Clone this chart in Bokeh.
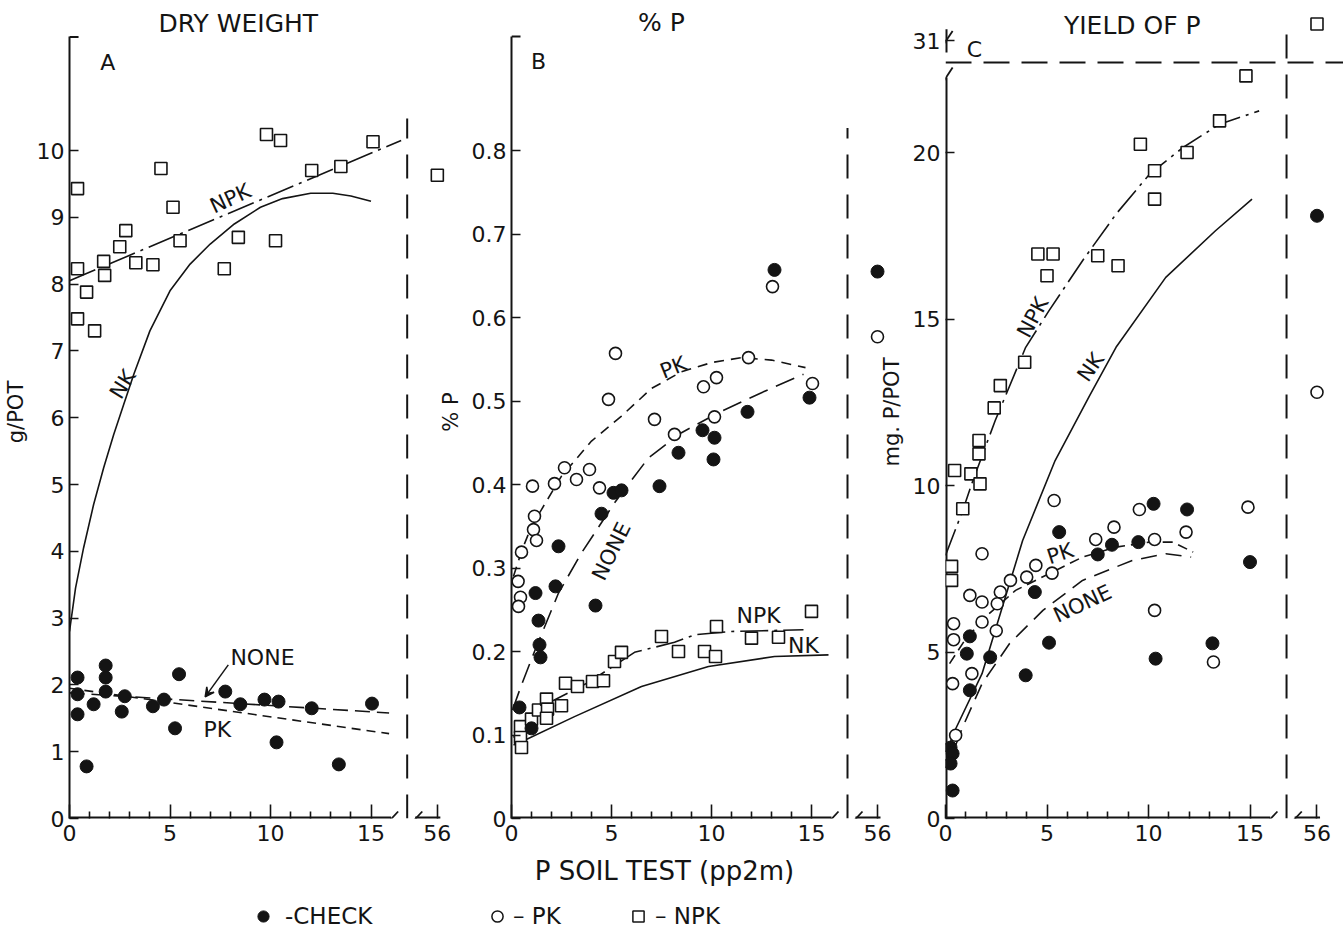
import math
from bokeh.plotting import figure
from bokeh.models import (Range1d, FixedTicker, Label, Arrow, VeeHead, Legend, LegendItem,
                          CustomJSTickFormatter)
from bokeh.layouts import row, column
from bokeh.embed import file_html
from bokeh.resources import INLINE

FONT = "DejaVu Sans"
INK = "#141414"

# ---------------- data ----------------
x_ticks = [0, 5, 10, 15]
x_far_value = 56          # soil test value shown beyond the axis break

# Panel A : dry weight (g/POT)
a_check_x = [0.4, 0.4, 0.4, 0.85, 1.2, 1.8, 1.8, 1.8, 2.6, 2.75, 4.15, 4.7, 5.25, 5.45, 7.75, 8.5, 9.7, 10.4, 10.3, 12.05, 13.4, 15.05]
a_check_y = [2.11, 1.86, 1.56, 0.78, 1.71, 2.29, 2.11, 1.9, 1.6, 1.83, 1.68, 1.78, 1.35, 2.16, 1.9, 1.71, 1.78, 1.75, 1.14, 1.65, 0.81, 1.72]
a_npk_x = [0.4, 0.4, 0.85, 0.4, 1.25, 1.7, 1.75, 2.5, 2.8, 3.3, 4.15, 4.55, 5.15, 5.5, 7.7, 8.4, 9.8, 10.5, 10.25, 12.05, 13.5, 15.1, 56]
a_npk_y = [9.43, 8.23, 7.88, 7.48, 7.3, 8.34, 8.13, 8.56, 8.8, 8.32, 8.29, 9.73, 9.15, 8.65, 8.23, 8.7, 10.24, 10.15, 8.65, 9.7, 9.76, 10.13, 9.63]
a_curve_npk_x = [0.0, 16.5]
a_curve_npk_y = [8.05, 10.15]
a_curve_nk_x = [0.0, 0.3, 0.7, 1.2, 1.7, 2.2, 2.7, 3.2, 4.0, 5.0, 6.0, 7.0, 8.2, 9.5, 10.6, 12.0, 13.1, 14.0, 15.0]
a_curve_nk_y = [2.8, 3.45, 4.05, 4.7, 5.25, 5.75, 6.2, 6.65, 7.3, 7.9, 8.3, 8.6, 8.9, 9.15, 9.28, 9.36, 9.36, 9.32, 9.24]
a_curve_none_x = [0.0, 15.9]
a_curve_none_y = [1.88, 1.58]
a_curve_pk_x = [0.0, 15.9]
a_curve_pk_y = [1.95, 1.27]
a_y_ticks = [0, 1, 2, 3, 4, 5, 6, 7, 8, 9, 10]

# Panel B : % P
b_check_x = [13.15, 14.9, 11.8, 8.35, 9.55, 10.15, 10.1, 7.4, 5.1, 5.5, 4.5, 2.35, 2.2, 4.2, 1.2, 1.35, 1.4, 1.45, 0.4, 1.0, 56]
b_check_y = [0.657, 0.504, 0.487, 0.438, 0.465, 0.456, 0.43, 0.398, 0.39, 0.393, 0.365, 0.326, 0.278, 0.255, 0.27, 0.237, 0.208, 0.193, 0.133, 0.108, 0.655]
b_pk_x = [13.05, 5.2, 4.85, 11.85, 9.6, 10.25, 15.05, 7.15, 10.15, 8.15, 4.4, 3.9, 3.25, 2.65, 2.15, 1.05, 1.15, 1.1, 1.25, 0.5, 0.33, 0.45, 0.35, 56]
b_pk_y = [0.637, 0.557, 0.502, 0.552, 0.517, 0.528, 0.521, 0.478, 0.481, 0.46, 0.396, 0.418, 0.406, 0.42, 0.401, 0.398, 0.362, 0.346, 0.333, 0.319, 0.284, 0.265, 0.254, 0.577]
b_npk_x = [0.45, 0.45, 0.5, 1.0, 1.35, 1.75, 1.8, 1.75, 2.5, 2.7, 3.3, 4.05, 4.6, 5.15, 5.5, 7.5, 8.35, 9.65, 10.2, 10.25, 12.0, 13.35, 15.0]
b_npk_y = [0.11, 0.097, 0.085, 0.119, 0.13, 0.143, 0.131, 0.12, 0.135, 0.162, 0.158, 0.164, 0.165, 0.188, 0.199, 0.218, 0.2, 0.2, 0.194, 0.23, 0.216, 0.217, 0.248]
b_curve_pk_x = [0.1, 0.5, 1.0, 1.5, 2.5, 4.0, 5.5, 7.0, 8.5, 10.0, 11.5, 13.0, 14.7]
b_curve_pk_y = [0.29, 0.32, 0.35, 0.37, 0.41, 0.452, 0.482, 0.515, 0.535, 0.546, 0.552, 0.549, 0.54]
b_curve_none_x = [0.05, 0.5, 1.15, 2.35, 3.5, 5.15, 6.85, 8.5, 10.35, 12.5, 14.6]
b_curve_none_y = [0.13, 0.16, 0.2, 0.27, 0.318, 0.378, 0.432, 0.462, 0.486, 0.51, 0.532]
b_curve_npk_x = [0.1, 1.5, 3.85, 6.15, 8.15, 9.15, 11.0, 14.6]
b_curve_npk_y = [0.097, 0.134, 0.163, 0.199, 0.211, 0.22, 0.224, 0.226]
b_curve_nk_x = [0.1, 0.5, 3.15, 6.5, 9.85, 13.15, 15.85]
b_curve_nk_y = [0.088, 0.092, 0.122, 0.158, 0.182, 0.194, 0.196]
b_y_ticks = [0, 0.1, 0.2, 0.3, 0.4, 0.5, 0.6, 0.7, 0.8]

# Panel C : yield of P (mg P/POT)
c_check_x = [10.25, 11.9, 5.6, 8.2, 9.5, 7.5, 15.0, 4.4, 1.2, 1.05, 2.2, 5.1, 13.15, 10.35, 3.95, 1.2, 0.25, 0.35, 0.25, 0.35, 56]
c_check_y = [9.45, 9.28, 8.6, 8.22, 8.3, 7.93, 7.7, 6.8, 5.47, 4.95, 4.84, 5.28, 5.26, 4.8, 4.3, 3.85, 2.13, 1.95, 1.65, 0.84, 18.1]
c_pk_x = [5.35, 9.55, 14.9, 11.85, 8.3, 7.4, 10.3, 1.8, 5.25, 4.45, 4.0, 3.2, 2.7, 1.2, 1.8, 2.55, 1.8, 0.4, 0.4, 2.5, 10.3, 13.2, 1.3, 0.35, 0.5, 56]
c_pk_y = [9.55, 9.28, 9.35, 8.6, 8.75, 8.38, 8.38, 7.95, 7.37, 7.6, 7.25, 7.15, 6.8, 6.7, 6.5, 6.45, 5.9, 5.85, 5.37, 5.64, 6.25, 4.7, 4.35, 4.05, 2.5, 12.8]
c_npk_x = [14.8, 13.5, 9.6, 11.9, 10.3, 10.3, 7.5, 8.5, 4.55, 5.3, 5.0, 3.9, 2.7, 2.4, 1.65, 1.65, 0.45, 1.25, 1.7, 0.85, 0.3, 0.3, 56]
c_npk_y = [22.3, 20.95, 20.25, 20.0, 19.45, 18.6, 16.9, 16.6, 16.95, 16.95, 16.3, 13.7, 13.0, 12.33, 11.35, 10.95, 10.45, 10.35, 10.05, 9.3, 7.57, 7.15, 32]
c_curve_npk_x = [0.0, 0.85, 1.35, 2.45, 3.95, 5.1, 6.75, 8.4, 10.05, 11.7, 13.5, 15.45]
c_curve_npk_y = [7.9, 9.25, 10.15, 11.95, 14.15, 15.25, 16.75, 18.15, 19.35, 20.15, 20.85, 21.25]
c_curve_nk_x = [0.1, 0.35, 1.8, 2.8, 3.8, 5.4, 7.1, 8.4, 10.85, 13.3, 15.1]
c_curve_nk_y = [2.0, 2.5, 4.35, 6.35, 8.35, 10.75, 12.7, 14.15, 16.25, 17.65, 18.6]
c_curve_pk_x = [0.2, 1.0, 2.15, 3.45, 5.1, 6.75, 8.4, 10.05, 11.2, 12.2]
c_curve_pk_y = [4.65, 5.4, 6.15, 6.85, 7.35, 7.85, 8.15, 8.3, 8.3, 8.0]
c_curve_none_x = [0.5, 0.85, 1.8, 3.15, 4.8, 6.75, 9.2, 10.85, 12.1]
c_curve_none_y = [2.2, 2.75, 4.05, 5.25, 6.25, 7.15, 7.75, 7.95, 7.85]
c_y_ticks = [0, 5, 10, 15, 20]
c_y_break_value = 31

# ---------------- layout constants ----------------
BREAK_POS = 18.3       # plotted position of x = 56
BREAK_LINE_X = 16.8    # vertical dashed break line
C_Y31_POS = 23.36      # plotted position of y = 31 in panel C
C_HLINE = 22.7         # horizontal dashed break line in panel C
H_TOP = 850


def bx(xs):
    return [BREAK_POS if v >= 50 else v for v in xs]


def cy(ys):
    return [C_Y31_POS + (v - c_y_break_value) * 0.5 if v > 30 else v for v in ys]


def panel(width, left, right, xmax, ymax, shift):
    p = figure(width=width, height=H_TOP, x_range=Range1d(0, xmax), y_range=Range1d(0, ymax),
               output_backend="svg", toolbar_location=None,
               min_border_left=left, min_border_right=right, min_border_top=5, min_border_bottom=32,
               background_fill_alpha=0, border_fill_alpha=0, outline_line_color=None)
    if shift:
        p.margin = (0, 0, 0, shift)
    p.xgrid.visible = False
    p.ygrid.visible = False
    xa = p.xaxis[0]
    xa.ticker = FixedTicker(ticks=x_ticks + [BREAK_POS],
                            minor_ticks=[1, 2, 3, 4, 6, 7, 8, 9, 11, 12, 13, 14])
    xa.formatter = CustomJSTickFormatter(code="return tick > 17 ? '56' : tick.toFixed(0);")
    xa.axis_line_color = None
    xa.major_tick_in = 14
    xa.major_tick_out = 0
    xa.minor_tick_in = 7
    xa.minor_tick_out = 0
    xa.major_tick_line_width = 1.6
    xa.minor_tick_line_width = 1.6
    xa.major_tick_line_color = INK
    xa.minor_tick_line_color = INK
    xa.major_label_text_font = FONT
    xa.major_label_text_font_size = "22px"
    xa.major_label_text_color = INK
    xa.major_label_standoff = 6
    ya = p.yaxis[0]
    ya.major_tick_in = 9
    ya.major_tick_out = 0
    ya.minor_tick_line_color = None
    ya.major_tick_line_width = 1.6
    ya.major_tick_line_color = INK
    ya.axis_line_width = 2
    ya.axis_line_color = INK
    ya.major_label_text_font = FONT
    ya.major_label_text_font_size = "22px"
    ya.major_label_text_color = INK
    ya.major_label_standoff = 5
    ya.axis_label_text_font = FONT
    ya.axis_label_text_font_size = "21px"
    ya.axis_label_text_font_style = "normal"
    ya.axis_label_text_color = INK
    ya.axis_label_standoff = 6
    return p


def x_axis_line(p, px_per_y):
    h = 7.0 / px_per_y
    p.segment(x0=[0, 17.2], y0=[0, 0], x1=[16.0, BREAK_POS + 0.15], y1=[0, 0], line_width=4, line_color=INK)
    p.segment(x0=[15.7, 16.9], y0=[-h, -h], x1=[16.35, 17.55], y1=[h, h], line_width=1.8, line_color=INK)


def lab(p, x, y, text, size="21px", angle=0.0):
    p.add_layout(Label(x=x, y=y, text=text, text_font=FONT, text_font_size=size, text_color=INK,
                       text_align="center", text_baseline="middle", angle=math.radians(angle)))


def pts(p, xs, ys, kind, visible=True):
    if kind == "check":
        return p.scatter(xs, ys, marker="circle", size=13, fill_color=INK, line_color=INK, visible=visible)
    elif kind == "pk":
        return p.scatter(xs, ys, marker="circle", size=12, fill_color="white", line_color=INK,
                         line_width=1.6, visible=visible)
    return p.scatter(xs, ys, marker="square", size=12, fill_color="white", line_color=INK,
                     line_width=1.6, visible=visible)


DASHDOT = "28 6 3 6"

# geometry of the three panels (frames at x = 69, 511, 945)
A_W, A_L, A_R = 460, 69, 8
B_L, B_R = 82, 8
B_SHIFT = 511 - B_L - A_W
B_W = B_L + (892 - 511) + B_R
C_L = 76
C_START = 945 - C_L
C_SHIFT = C_START - (A_W + B_SHIFT + B_W)
C_W = 1343 - C_START

# ---------------- Panel A ----------------
pA = panel(A_W, A_L, A_R, (A_W - A_L - A_R) / 20.1, 813 / 66.8, 0)
pA.yaxis[0].ticker = FixedTicker(ticks=a_y_ticks)
pA.yaxis[0].bounds = (0, 11.7)
pA.yaxis[0].axis_label = "g/POT"
pA.segment(x0=[0], y0=[11.7], x1=[0.45], y1=[11.7], line_width=2, line_color=INK)
x_axis_line(pA, 66.8)
pA.line([BREAK_LINE_X, BREAK_LINE_X], [0, 10.48], line_dash="24 16", line_width=2, line_color=INK)
pA.line(a_curve_npk_x, a_curve_npk_y, line_dash=DASHDOT, line_width=1.6, line_color=INK)
pA.line(a_curve_nk_x, a_curve_nk_y, line_width=1.6, line_color=INK)
pA.line(a_curve_none_x, a_curve_none_y, line_dash="15 7", line_width=1.6, line_color=INK)
pA.line(a_curve_pk_x, a_curve_pk_y, line_dash="9 6", line_width=1.6, line_color=INK)
pts(pA, bx(a_npk_x), a_npk_y, "npk")
pts(pA, bx(a_check_x), a_check_y, "check")
lab(pA, 8.4, 11.9, "DRY WEIGHT", "25px")
lab(pA, 1.9, 11.32, "A", "22px")
lab(pA, 8.0, 9.28, "NPK", angle=25)
lab(pA, 2.65, 6.5, "NK", angle=58)
lab(pA, 9.6, 2.41, "NONE", "22px")
lab(pA, 7.35, 1.33, "PK", "22px")
pA.add_layout(Arrow(end=VeeHead(size=9, line_width=1.5, line_color=INK, fill_color=INK),
                    x_start=7.9, y_start=2.3, x_end=6.75, y_end=1.82, line_width=1.5, line_color=INK))

# ---------------- Panel B ----------------
pB = panel(B_W, B_L, B_R, (B_W - B_L - B_R) / 20.0, 813 / 835.0, B_SHIFT)
pB.yaxis[0].ticker = FixedTicker(ticks=b_y_ticks)
pB.yaxis[0].formatter = CustomJSTickFormatter(code="return tick == 0 ? '0' : tick.toFixed(1);")
pB.yaxis[0].bounds = (0, 0.9365)
pB.yaxis[0].axis_label = "% P"
pB.segment(x0=[0], y0=[0.9365], x1=[0.45], y1=[0.9365], line_width=2, line_color=INK)
x_axis_line(pB, 835.0)
pB.line([BREAK_LINE_X, BREAK_LINE_X], [0, 0.827], line_dash="24 16", line_width=2, line_color=INK)
pB.line(b_curve_pk_x, b_curve_pk_y, line_dash="10 7", line_width=1.6, line_color=INK)
pB.line(b_curve_none_x, b_curve_none_y, line_dash="20 9", line_width=1.6, line_color=INK)
pB.line(b_curve_npk_x, b_curve_npk_y, line_dash=DASHDOT, line_width=1.6, line_color=INK)
pB.line(b_curve_nk_x, b_curve_nk_y, line_width=1.6, line_color=INK)
pts(pB, bx(b_npk_x), b_npk_y, "npk")
pts(pB, bx(b_pk_x), b_pk_y, "pk")
pts(pB, bx(b_check_x), b_check_y, "check")
lab(pB, 7.5, 0.953, "% P", "25px")
lab(pB, 1.35, 0.907, "B", "22px")
lab(pB, 8.1, 0.54, "PK", angle=22)
lab(pB, 5.0, 0.32, "NONE", angle=64)
lab(pB, 12.35, 0.243, "NPK", "22px")
lab(pB, 14.6, 0.207, "NK", "22px")

# ---------------- Panel C ----------------
pC = panel(C_W, C_L, 0, (C_W - C_L) / 20.3, 813 / 33.3, C_SHIFT)
pC.yaxis[0].ticker = FixedTicker(ticks=c_y_ticks + [C_Y31_POS])
pC.yaxis[0].formatter = CustomJSTickFormatter(code="return tick > 22 ? '31' : tick.toFixed(0);")
pC.yaxis[0].axis_line_color = None
pC.yaxis[0].axis_label = "mg. P/POT"
pC.segment(x0=[0, 0], y0=[0, 23.0], x1=[0, 0], y1=[22.25, 23.7], line_width=4, line_color=INK)
pC.segment(x0=[-0.3, -0.3], y0=[21.95, 23.05], x1=[0.35, 0.35], y1=[22.55, 23.65], line_width=1.8, line_color=INK)
x_axis_line(pC, 33.3)
pC.line([BREAK_LINE_X, BREAK_LINE_X], [0, 23.7], line_dash="24 16", line_width=2, line_color=INK)
pC.line([0, (C_W - C_L) / 20.3], [C_HLINE, C_HLINE], line_dash="26 12", line_width=2, line_color=INK)
pC.line(c_curve_npk_x, c_curve_npk_y, line_dash=DASHDOT, line_width=1.6, line_color=INK)
pC.line(c_curve_nk_x, c_curve_nk_y, line_width=1.6, line_color=INK)
pC.line(c_curve_pk_x, c_curve_pk_y, line_dash="10 6", line_width=1.6, line_color=INK)
pC.line(c_curve_none_x, c_curve_none_y, line_dash="16 9", line_width=1.6, line_color=INK)
pts(pC, bx(c_npk_x), cy(c_npk_y), "npk")
pts(pC, bx(c_pk_x), c_pk_y, "pk")
pts(pC, bx(c_check_x), c_check_y, "check")
lab(pC, 9.2, 23.8, "YIELD OF P", "25px")
lab(pC, 1.43, 23.1, "C", "22px")
lab(pC, 4.3, 15.05, "NPK", angle=62)
lab(pC, 7.15, 13.55, "NK", angle=55)
lab(pC, 5.65, 7.95, "PK", angle=18)
lab(pC, 6.75, 6.45, "NONE", angle=25)

# ---------------- bottom strip: x label and key ----------------
pb = figure(width=1343, height=930 - H_TOP, x_range=Range1d(0, 1343), y_range=Range1d(0, 930 - H_TOP),
            output_backend="svg", toolbar_location=None, min_border=0, outline_line_color=None,
            x_axis_type=None, y_axis_type=None)
pb.xgrid.visible = False
pb.ygrid.visible = False
pb.add_layout(Label(x=664, y=60, text="P SOIL TEST (pp2m)", text_font=FONT, text_font_size="26px",
                    text_color=INK, text_align="center", text_baseline="middle"))
# key renderers carry the series data but are hidden: only their legend glyphs show
r_check = pb.scatter(c_check_x, c_check_y, marker="circle", size=11, fill_color=INK, line_color=INK, visible=False)
r_pk = pb.scatter(c_pk_x, c_pk_y, marker="circle", size=10, fill_color="white", line_color=INK,
                  line_width=1.5, visible=False)
r_npk = pb.scatter(c_npk_x, c_npk_y, marker="square", size=10, fill_color="white", line_color=INK,
                   line_width=1.5, visible=False)
for rend, text, xloc, stand in [(r_check, "-CHECK", 249, 8), (r_pk, "– PK", 483, 2), (r_npk, "– NPK", 624, 3)]:
    lg = Legend(items=[LegendItem(label=text, renderers=[rend])], location=(xloc, 0),
                orientation="horizontal", padding=0, margin=0, border_line_color=None,
                background_fill_alpha=0, glyph_width=28, glyph_height=28, label_height=28,
                label_standoff=stand, label_text_font=FONT, label_text_font_size="23px",
                label_text_color=INK, inactive_fill_alpha=0, click_policy="none")
    pb.add_layout(lg)

layout = column(row(pA, pB, pC), pb)
open("out.html", "w").write(file_html(layout, INLINE))
